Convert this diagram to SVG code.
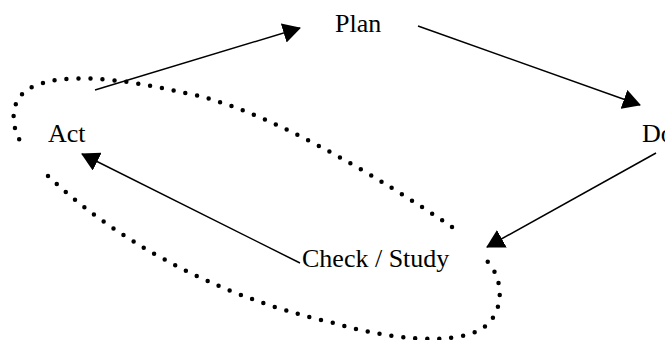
<svg xmlns="http://www.w3.org/2000/svg" width="665" height="340" viewBox="0 0 665 340">
<style>
.lbl{font-family:"Liberation Serif","Times New Roman",serif;font-size:26px;fill:#000}
.conn{stroke:#000;stroke-width:1.5;fill:none;marker-end:url(#ah)}
.dots{stroke:#000;stroke-width:4.5;fill:none;stroke-linecap:round;stroke-dasharray:0 12}
</style>
<defs>
<marker id="ah" viewBox="0 0 18 20" refX="17" refY="10" markerWidth="18" markerHeight="20" markerUnits="userSpaceOnUse" orient="auto">
<path d="M0,0 L18,10 L0,20 Z" fill="#000"/>
</marker>
</defs>
<g id="loop">
<path class="dots" d="M452,227 C380,178 260,105 180,92 C120,78 60,72 30,88 C8,100 10,130 25,148"/>
<path class="dots" d="M48,176 C110,235 210,295 330,322 C390,340 450,345 480,330 C505,315 505,280 487,261"/>
</g>
<g id="connectors">
<line class="conn" x1="95" y1="90" x2="300" y2="28"/>
<line class="conn" x1="418" y1="26" x2="640" y2="105"/>
<line class="conn" x1="656" y1="153" x2="487" y2="247"/>
<line class="conn" x1="300" y1="263" x2="82" y2="154"/>
</g>
<g id="plan"><text class="lbl" x="335" y="32">Plan</text></g>
<g id="do"><text class="lbl" x="642" y="142">Do</text></g>
<g id="check"><text class="lbl" x="302" y="267">Check / Study</text></g>
<g id="act"><text class="lbl" x="48" y="142">Act</text></g>
</svg>
